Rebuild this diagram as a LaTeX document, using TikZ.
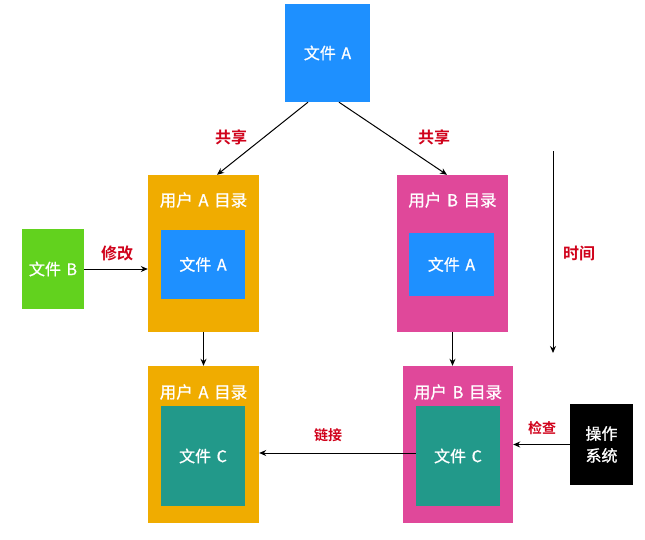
\documentclass[tikz,border=0pt]{standalone}
\usepackage{fontspec}
\setmainfont{Noto Sans CJK SC}
\newfontfamily\cjkm[FakeBold=0.9]{Noto Sans CJK SC}
\newfontfamily\cjkb{Noto Sans CJK SC Bold}
\usetikzlibrary{calc,arrows.meta}
\definecolor{cblue}{RGB}{30,144,255}
\definecolor{corange}{RGB}{240,172,0}
\definecolor{cpink}{RGB}{224,72,154}
\definecolor{cgreen}{RGB}{98,210,30}
\definecolor{cteal}{RGB}{34,153,138}
\definecolor{cred}{RGB}{208,2,27}
\tikzset{
  box/.style={draw=none, inner sep=0pt, text=white, font=\cjkm\fontsize{16}{20}\selectfont},
  ttl/.style={inner sep=0pt, text=white, font=\cjkm\fontsize{16.5}{20}\selectfont},
  lbl/.style={inner sep=0pt, text=cred, font=\cjkb\fontsize{16}{18}\selectfont},
  arr/.style={-{Stealth[length=7pt,width=6pt]}, line width=1pt, black}
}
\begin{document}
\begin{tikzpicture}[x=1pt,y=-1pt]
\useasboundingbox (0,0) rectangle (645,539);
% top file A
\node[box, fill=cblue, minimum width=85pt, minimum height=98pt] (fA) at (327.5,53) {文件\hspace{2pt} A};
% user A dir top
\node[box, fill=corange, minimum width=111pt, minimum height=157pt] (uA1) at (203.5,253.5) {};
\node[ttl] (uA1t) at (203.5,200) {用户\hspace{2pt} A\hspace{2pt} 目录};
\node[box, fill=cblue, minimum width=84pt, minimum height=69pt] (uA1f) at (203,264.5) {文件\hspace{2pt} A};
% user B dir top
\node[box, fill=cpink, minimum width=111pt, minimum height=157pt] (uB1) at (452.5,253.5) {};
\node[ttl] (uB1t) at (452.5,200) {用户\hspace{2pt} B\hspace{2pt} 目录};
\node[box, fill=cblue, minimum width=85pt, minimum height=63pt] (uB1f) at (451.5,264.5) {文件\hspace{2pt} A};
% file B
\node[box, fill=cgreen, minimum width=62pt, minimum height=80pt] (fB) at (53,269) {文件\hspace{2pt} B};
% user A dir bottom
\node[box, fill=corange, minimum width=111pt, minimum height=157pt] (uA2) at (203.5,444.5) {};
\node[ttl] (uA2t) at (203.5,392) {用户\hspace{2pt} A\hspace{2pt} 目录};
\node[box, fill=cteal, minimum width=84pt, minimum height=100pt] (uA2f) at (203,456) {文件\hspace{2pt} C};
% user B dir bottom
\node[box, fill=cpink, minimum width=110pt, minimum height=157pt] (uB2) at (458,444.5) {};
\node[ttl] (uB2t) at (458,392) {用户\hspace{2pt} B\hspace{2pt} 目录};
\node[box, fill=cteal, minimum width=84pt, minimum height=100pt] (uB2f) at (458,456) {文件\hspace{2pt} C};
% OS
\node[box, fill=black, minimum width=63pt, minimum height=81pt, align=center, font=\cjkm\fontsize{16}{22}\selectfont] (os) at (601.5,444.5) {操作\\系统};
% time
\coordinate (t1) at (553,151);
\coordinate (t2) at (553,353);
\draw[arr] (t1) -- (t2);
\node[lbl] (tl) at (579,253) {时间};
% share arrows
\draw[arr] ($(fA.south)+(-19.5,0)$) -- ($(uA1.north)+(13.5,0)$);
\draw[arr] ($(fA.south)+(11.5,0)$) -- ($(uB1.north)+(-5.5,0)$);
\node[lbl] (s1) at (231,137) {共享};
\node[lbl] (s2) at (434,137) {共享};
% modify
\draw[arr] (fB.east) -- (fB.east -| uA1.west);
\node[lbl] (m) at (117,253) {修改};
% down arrows
\draw[arr] (uA1.south) -- (uA2.north);
\draw[arr] (uB1.south) -- (uB1.south |- uB2.north);
% link
\draw[arr] ($(uB2f.west)+(0,-3)$) -- ($(uA2.east)+(0,8.5)$);
\node[lbl, font=\cjkb\fontsize{14}{16}\selectfont] (lk) at (328,435) {链接};
% check
\draw[arr] (os.west) -- (os.west -| uB2.east);
\node[lbl, font=\cjkb\fontsize{14}{16}\selectfont] (ck) at (542,428) {检查};
\end{tikzpicture}
\end{document}
